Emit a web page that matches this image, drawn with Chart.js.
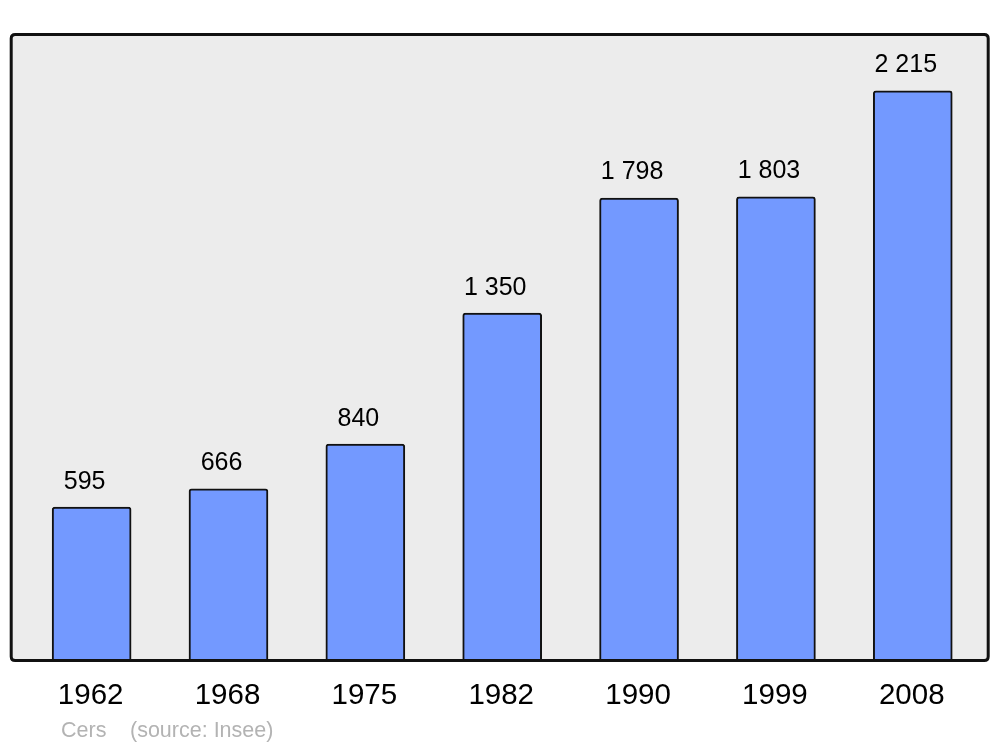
<!DOCTYPE html>
<html>
<head>
<meta charset="utf-8">
<script src="https://cdn.jsdelivr.net/npm/chart.js@4/dist/chart.umd.min.js"></script>
<style>
  html, body { margin: 0; padding: 0; background: #fff; }
  #chart { display: block; }
</style>
</head>
<body>
<canvas id="chart" width="1000" height="747"></canvas>
<script>
var years = ["1962", "1968", "1975", "1982", "1990", "1999", "2008"];
var population = [595, 666, 840, 1350, 1798, 1803, 2215];
var yMax = 2436.5;
var footerPlace = "Cers";
var footerSource = "(source: Insee)";

function fmt(n) {
  return String(n).replace(/\B(?=(\d{3})+(?!\d))/g, " ");
}

function roundRect(ctx, x, y, w, h, r) {
  ctx.beginPath();
  ctx.moveTo(x + r, y);
  ctx.lineTo(x + w - r, y);
  ctx.quadraticCurveTo(x + w, y, x + w, y + r);
  ctx.lineTo(x + w, y + h - r);
  ctx.quadraticCurveTo(x + w, y + h, x + w - r, y + h);
  ctx.lineTo(x + r, y + h);
  ctx.quadraticCurveTo(x, y + h, x, y + h - r);
  ctx.lineTo(x, y + r);
  ctx.quadraticCurveTo(x, y, x + r, y);
  ctx.closePath();
}

// frame around the plot, a bit wider than the category area
function framePath(chart) {
  var a = chart.chartArea;
  var x0 = a.left - 12, x1 = a.right + 7;
  roundRect(chart.ctx, x0, a.top + 0.5, x1 - x0, a.bottom - a.top, 4);
}

var framePlugin = {
  id: 'frame',
  beforeDatasetsDraw: function(chart) {
    var ctx = chart.ctx;
    ctx.save();
    framePath(chart);
    ctx.fillStyle = '#ececec';
    ctx.fill();
    ctx.restore();
  },
  afterDatasetsDraw: function(chart) {
    var ctx = chart.ctx;
    ctx.save();
    framePath(chart);
    ctx.lineWidth = 3;
    ctx.strokeStyle = '#111';
    ctx.stroke();
    ctx.restore();
  }
};

var labelPlugin = {
  id: 'labels',
  afterDraw: function(chart) {
    var ctx = chart.ctx, a = chart.chartArea;
    var xs = chart.scales.x, ys = chart.scales.y;
    ctx.save();
    ctx.textAlign = 'center';
    ctx.textBaseline = 'middle';
    ctx.fillStyle = '#000';
    ctx.font = '25px "Liberation Sans", Arial, sans-serif';
    population.forEach(function(v, i) {
      ctx.fillText(fmt(v), xs.getPixelForValue(i) - 7, ys.getPixelForValue(v) - 25.5);
    });
    ctx.font = '29.5px "Liberation Sans", Arial, sans-serif';
    years.forEach(function(y, i) {
      ctx.fillText(y, xs.getPixelForValue(i) - 1, a.bottom + 36);
    });
    ctx.fillStyle = '#b3b3b3';
    ctx.font = '21.5px "Liberation Sans", Arial, sans-serif';
    ctx.textAlign = 'left';
    ctx.fillText(footerPlace, 61, a.bottom + 71);
    ctx.fillText(footerSource, 130, a.bottom + 71);
    ctx.restore();
  }
};

var ctx = document.getElementById('chart').getContext('2d');
var chart = new Chart(ctx, {
  type: 'bar',
  data: {
    labels: years,
    datasets: [{
      data: population,
      backgroundColor: '#7399ff',
      borderColor: '#111',
      borderWidth: 2,
      borderSkipped: 'bottom',
      borderRadius: { topLeft: 3, topRight: 3, bottomLeft: 0, bottomRight: 0 },
      barThickness: 79
    }]
  },
  options: {
    responsive: false,
    animation: false,
    layout: { padding: { left: 23.2, right: 18.8, top: 34, bottom: 87 } },
    plugins: { legend: { display: false }, tooltip: { enabled: false } },
    scales: {
      x: { display: false },
      y: { display: false, min: 0, max: yMax }
    }
  },
  plugins: [framePlugin, labelPlugin]
});
</script>
</body>
</html>
